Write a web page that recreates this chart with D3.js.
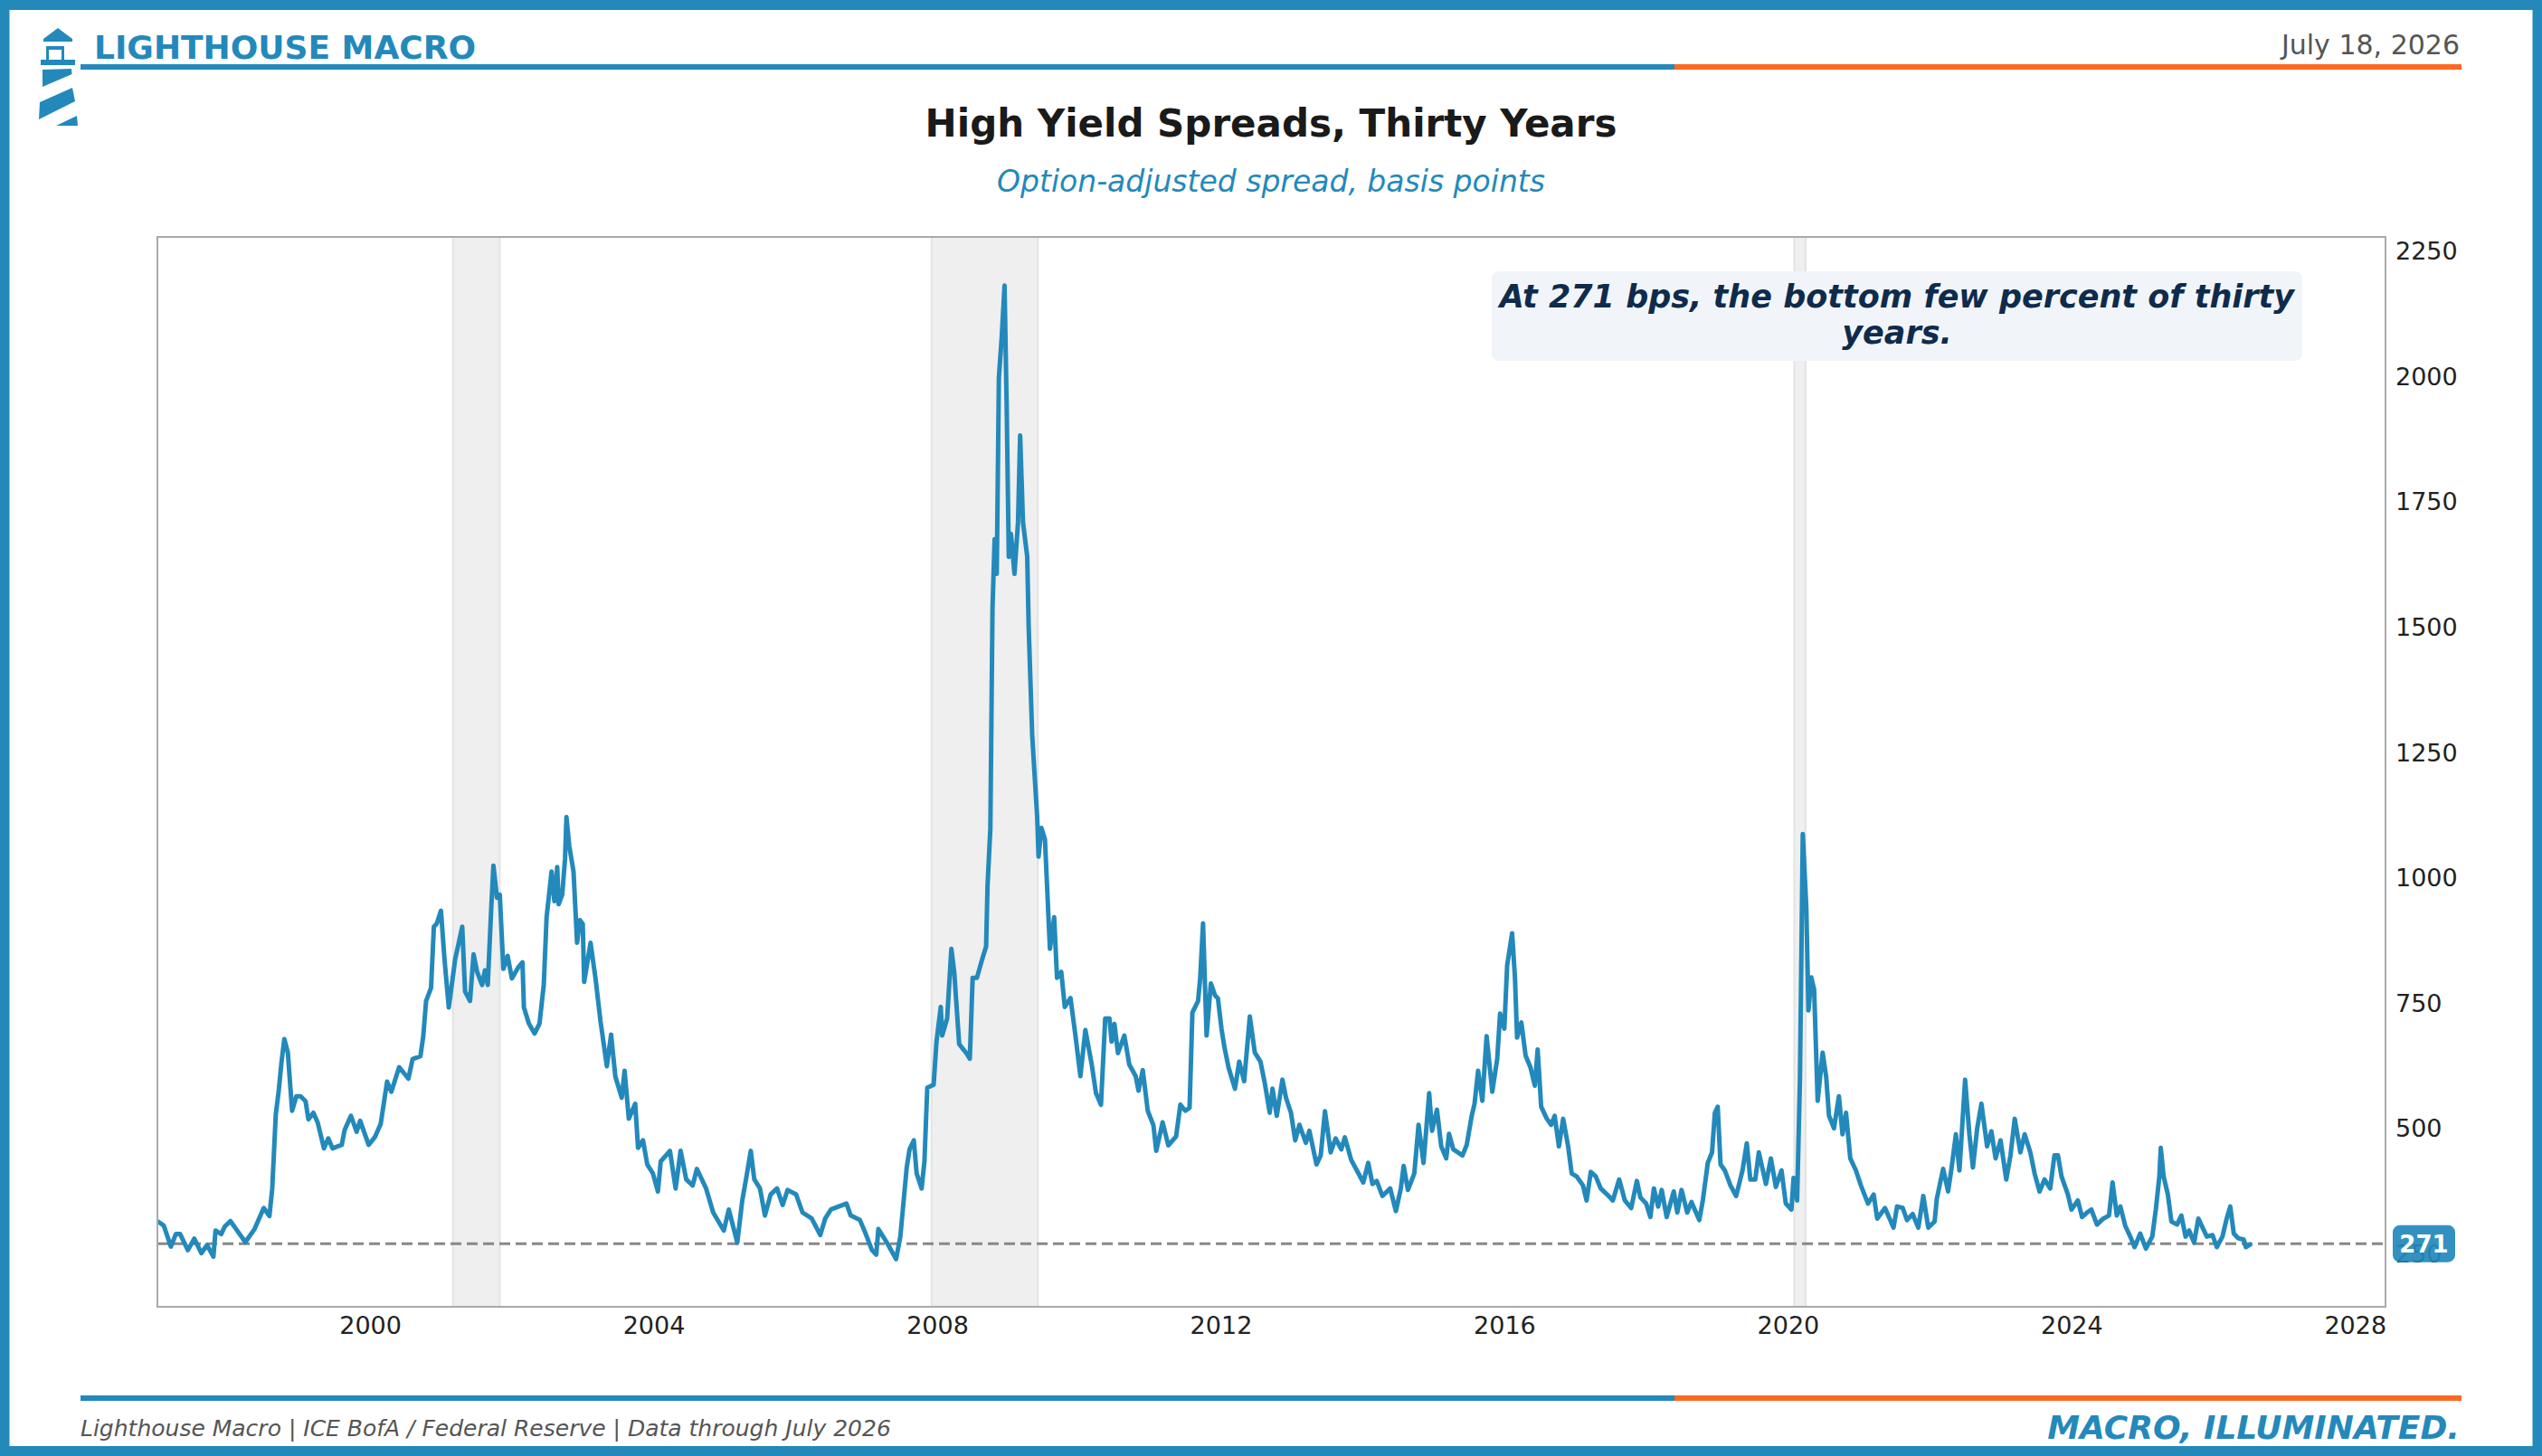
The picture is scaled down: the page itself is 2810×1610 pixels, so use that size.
<!DOCTYPE html>
<html>
<head>
<meta charset="utf-8">
<title>High Yield Spreads, Thirty Years</title>
<script src="https://cdn.jsdelivr.net/npm/d3@7"></script>
<style>
  body { margin: 0; background: #fff; }
  svg { display: block; font-family: "DejaVu Sans", sans-serif; }
</style>
</head>
<body>
<div id="chart"></div>
<script>
/* ICE BofA US High Yield OAS, bps as [decimal year, bps] */

const spread1997_2003 = [
  [1997.00, 316], [1997.09, 307], [1997.19, 265], [1997.26, 290], [1997.32, 290], [1997.43, 258],
  [1997.52, 281], [1997.62, 252], [1997.70, 268], [1997.79, 245], [1997.82, 297], [1997.90, 290],
  [1997.95, 305], [1998.03, 316], [1998.16, 290], [1998.24, 274], [1998.37, 300], [1998.50, 342],
  [1998.58, 326], [1998.62, 381], [1998.67, 529], [1998.71, 574], [1998.75, 632], [1998.79, 679],
  [1998.84, 652], [1998.90, 536], [1998.96, 565], [1999.02, 565], [1999.09, 555], [1999.13, 519],
  [1999.20, 532], [1999.26, 513], [1999.35, 461], [1999.41, 481], [1999.47, 461], [1999.60, 468],
  [1999.64, 497], [1999.73, 526], [1999.81, 494], [1999.86, 516], [1999.98, 468], [2000.07, 484],
  [2000.15, 510], [2000.24, 594], [2000.30, 574], [2000.41, 623], [2000.54, 600], [2000.60, 639],
  [2000.71, 645], [2000.75, 684], [2000.79, 755], [2000.86, 781], [2000.90, 903], [2000.94, 909],
  [2001.00, 935], [2001.05, 838], [2001.11, 742], [2001.20, 838], [2001.26, 877], [2001.30, 903],
  [2001.34, 774], [2001.41, 755], [2001.46, 848], [2001.51, 813], [2001.58, 787], [2001.62, 816],
  [2001.66, 787], [2001.71, 942], [2001.74, 1025], [2001.79, 961], [2001.83, 967], [2001.88, 819],
  [2001.94, 845], [2002.00, 800], [2002.09, 822], [2002.15, 832], [2002.17, 742], [2002.24, 710],
  [2002.32, 690], [2002.39, 710], [2002.45, 787], [2002.49, 922], [2002.56, 1013], [2002.60, 954],
  [2002.64, 1022], [2002.66, 948], [2002.71, 967], [2002.75, 1038], [2002.77, 1122], [2002.81, 1064],
  [2002.87, 1013], [2002.92, 871], [2002.96, 916], [2003.00, 909], [2003.02, 793], [2003.11, 871]
]

const spread2003_2007 = [
  [2003.18, 800], [2003.25, 715], [2003.34, 625], [2003.40, 688], [2003.46, 604], [2003.55, 562],
  [2003.59, 616], [2003.65, 520], [2003.74, 550], [2003.78, 462], [2003.85, 477], [2003.91, 429],
  [2003.99, 411], [2004.06, 375], [2004.10, 435], [2004.23, 456], [2004.31, 381], [2004.38, 456],
  [2004.46, 399], [2004.55, 387], [2004.61, 420], [2004.74, 381], [2004.84, 333], [2004.99, 297],
  [2005.06, 339], [2005.18, 273], [2005.25, 357], [2005.31, 405], [2005.37, 456], [2005.42, 399],
  [2005.50, 381], [2005.57, 327], [2005.65, 369], [2005.74, 381], [2005.82, 348], [2005.89, 378],
  [2006.01, 369], [2006.10, 333], [2006.23, 321], [2006.35, 288], [2006.42, 321], [2006.50, 339],
  [2006.61, 345], [2006.72, 351], [2006.78, 327], [2006.91, 318], [2006.99, 291], [2007.08, 258],
  [2007.14, 249], [2007.17, 300], [2007.29, 273], [2007.42, 240], [2007.48, 285], [2007.57, 423],
  [2007.61, 459], [2007.67, 477], [2007.71, 411], [2007.78, 381], [2007.82, 435]
]

const spread2008_2011 = [
  [2007.86, 582], [2007.95, 588], [2007.99, 674], [2008.05, 743], [2008.07, 686], [2008.14, 720],
  [2008.20, 859], [2008.24, 813], [2008.31, 669], [2008.41, 651], [2008.46, 640], [2008.50, 801],
  [2008.56, 801], [2008.63, 836], [2008.69, 864], [2008.71, 985], [2008.75, 1100], [2008.78, 1538],
  [2008.81, 1676], [2008.84, 1607], [2008.87, 1998], [2008.91, 2079], [2008.95, 2182], [2008.98, 1941],
  [2009.01, 1641], [2009.04, 1687], [2009.09, 1607], [2009.14, 1710], [2009.17, 1883], [2009.21, 1710],
  [2009.27, 1641], [2009.29, 1503], [2009.34, 1285], [2009.36, 1238], [2009.41, 1123], [2009.43, 1043],
  [2009.47, 1100], [2009.52, 1077], [2009.59, 859], [2009.65, 922], [2009.69, 801], [2009.75, 813],
  [2009.80, 743], [2009.88, 761], [2009.95, 686], [2010.02, 605], [2010.09, 697], [2010.18, 628],
  [2010.24, 571], [2010.31, 548], [2010.37, 720], [2010.43, 720], [2010.46, 674], [2010.50, 709],
  [2010.55, 651], [2010.64, 686], [2010.71, 628], [2010.80, 605], [2010.84, 576], [2010.90, 617],
  [2010.97, 536], [2011.05, 507], [2011.09, 456], [2011.18, 513], [2011.26, 467], [2011.37, 485],
  [2011.43, 548], [2011.50, 536], [2011.56, 542], [2011.60, 732], [2011.68, 755], [2011.71, 801],
  [2011.75, 910], [2011.80, 686], [2011.86, 790]
]

const spread2012_2017 = [
  [2011.92, 766], [2011.96, 760], [2012.01, 700], [2012.05, 664], [2012.11, 622], [2012.20, 580],
  [2012.26, 634], [2012.33, 595], [2012.41, 724], [2012.48, 652], [2012.56, 634], [2012.62, 592],
  [2012.69, 532], [2012.73, 580], [2012.79, 526], [2012.87, 598], [2012.92, 562], [2012.99, 532],
  [2013.05, 477], [2013.11, 508], [2013.20, 472], [2013.25, 496], [2013.35, 429], [2013.41, 447],
  [2013.47, 535], [2013.55, 453], [2013.62, 481], [2013.70, 459], [2013.75, 483], [2013.84, 438],
  [2013.92, 417], [2014.01, 393], [2014.08, 432], [2014.14, 390], [2014.20, 396], [2014.28, 366],
  [2014.39, 381], [2014.47, 336], [2014.54, 381], [2014.58, 426], [2014.64, 378], [2014.73, 411],
  [2014.79, 508], [2014.86, 432], [2014.94, 571], [2014.98, 496], [2015.05, 538], [2015.11, 465],
  [2015.18, 441], [2015.22, 490], [2015.28, 459], [2015.41, 447], [2015.47, 468], [2015.54, 526],
  [2015.58, 550], [2015.63, 616], [2015.69, 556], [2015.75, 685], [2015.83, 574], [2015.90, 640],
  [2015.94, 730], [2016.00, 700], [2016.04, 826], [2016.11, 890], [2016.15, 802], [2016.18, 682],
  [2016.24, 712], [2016.30, 646], [2016.37, 622], [2016.43, 586], [2016.47, 658], [2016.52, 544],
  [2016.60, 520], [2016.66, 508], [2016.71, 526], [2016.77, 465], [2016.83, 520], [2016.90, 465],
  [2016.95, 411], [2017.02, 405], [2017.11, 387], [2017.16, 357], [2017.22, 414], [2017.29, 405],
  [2017.36, 381], [2017.45, 369], [2017.53, 357], [2017.62, 399], [2017.70, 357], [2017.79, 342],
  [2017.87, 396], [2017.92, 363]
]

const spread2018_2026 = [
  [2018.00, 351], [2018.06, 324], [2018.11, 381], [2018.17, 345], [2018.22, 378], [2018.29, 324],
  [2018.39, 375], [2018.44, 333], [2018.50, 378], [2018.58, 333], [2018.64, 354], [2018.75, 318],
  [2018.80, 357], [2018.87, 432], [2018.93, 453], [2018.97, 532], [2019.01, 544], [2019.05, 429],
  [2019.11, 417], [2019.19, 387], [2019.27, 366], [2019.36, 417], [2019.42, 471], [2019.47, 399],
  [2019.54, 399], [2019.59, 453], [2019.69, 390], [2019.76, 441], [2019.83, 384], [2019.91, 417],
  [2019.97, 351], [2020.05, 339], [2020.08, 402], [2020.13, 357], [2020.17, 598], [2020.21, 1088],
  [2020.26, 941], [2020.29, 736], [2020.33, 802], [2020.37, 778], [2020.42, 556], [2020.49, 652],
  [2020.54, 604], [2020.58, 526], [2020.65, 501], [2020.72, 565], [2020.77, 489], [2020.82, 532],
  [2020.88, 441], [2020.96, 417], [2021.03, 387], [2021.13, 351], [2021.21, 369], [2021.26, 321],
  [2021.37, 342], [2021.49, 303], [2021.54, 345], [2021.62, 342], [2021.68, 318], [2021.76, 330],
  [2021.84, 303], [2021.91, 366], [2021.98, 303], [2022.07, 315], [2022.10, 360], [2022.19, 420],
  [2022.26, 375], [2022.31, 423], [2022.37, 489], [2022.42, 417], [2022.50, 598], [2022.56, 489],
  [2022.61, 423], [2022.67, 501], [2022.73, 550], [2022.81, 465], [2022.87, 495], [2022.93, 441],
  [2023.00, 477], [2023.08, 399], [2023.14, 447], [2023.20, 520], [2023.28, 453], [2023.34, 489],
  [2023.42, 453], [2023.48, 411], [2023.55, 375], [2023.62, 399], [2023.70, 381], [2023.76, 447],
  [2023.81, 447], [2023.86, 405], [2023.95, 369], [2024.00, 339], [2024.09, 357], [2024.15, 324],
  [2024.22, 333], [2024.28, 339], [2024.36, 309], [2024.45, 321], [2024.53, 327], [2024.58, 393],
  [2024.64, 327], [2024.69, 345], [2024.76, 306], [2024.83, 285], [2024.89, 264], [2024.97, 291],
  [2025.05, 261], [2025.14, 285], [2025.19, 339], [2025.24, 405], [2025.26, 462], [2025.30, 405],
  [2025.36, 369], [2025.41, 315], [2025.49, 309], [2025.55, 327], [2025.61, 285], [2025.66, 297],
  [2025.73, 273], [2025.79, 321], [2025.86, 300], [2025.91, 285], [2025.99, 288], [2026.05, 264],
  [2026.13, 285], [2026.19, 321], [2026.24, 345], [2026.29, 291], [2026.35, 282], [2026.43, 279],
  [2026.46, 264], [2026.54, 271]
]

// NBER recessions, [start, end] in decimal years
const recessions = [[2001.17, 2001.83], [2007.92, 2009.42], [2020.09, 2020.25]]

const xTicks = [2000, 2004, 2008, 2012, 2016, 2020, 2024, 2028]
const yTicks = [250, 500, 750, 1000, 1250, 1500, 1750, 2000, 2250]
const latestSpread = 271

const annotationLines = ["At 271 bps, the bottom few percent of thirty", "years."]

const W = 2810
const H = 1610
const BLUE = "#2389bb"
const ORANGE = "#ff6a22"
const plot = { left: 174, right: 2637, top: 262, bottom: 1445 }

const series = [].concat(spread1997_2003, spread2003_2007, spread2008_2011, spread2012_2017, spread2018_2026)

const svg = d3.select("#chart").append("svg")
  .attr("width", W)
  .attr("height", H)

const x = d3.scaleLinear().domain([1997.0, 2028.43]).range([plot.left, plot.right])
const y = d3.scaleLinear().domain([145, 2279]).range([plot.bottom, plot.top])

// recession shading
svg.append("g").selectAll("rect")
  .data(recessions)
  .join("rect")
  .attr("x", d => x(d[0]))
  .attr("y", plot.top)
  .attr("width", d => x(d[1]) - x(d[0]))
  .attr("height", plot.bottom - plot.top)
  .attr("fill", "#efefef")
  .attr("stroke", "#e3e3e3")
  .attr("stroke-width", 2)

// current level reference
svg.append("line")
  .attr("x1", plot.left)
  .attr("x2", plot.right)
  .attr("y1", y(latestSpread))
  .attr("y2", y(latestSpread))
  .attr("stroke", "#888")
  .attr("stroke-width", 3)
  .attr("stroke-dasharray", "12,6")

const line = d3.line()
  .x(d => x(d[0]))
  .y(d => y(d[1]))

svg.append("path")
  .datum(series)
  .attr("d", line)
  .attr("fill", "none")
  .attr("stroke", BLUE)
  .attr("stroke-width", 5)
  .attr("stroke-linejoin", "round")

// spines
svg.append("rect")
  .attr("x", plot.left)
  .attr("y", plot.top)
  .attr("width", plot.right - plot.left)
  .attr("height", plot.bottom - plot.top)
  .attr("fill", "none")
  .attr("stroke", "#aaa")
  .attr("stroke-width", 2)

const xAxis = svg.append("g")
  .attr("transform", `translate(0,${plot.bottom})`)
  .call(d3.axisBottom(x).tickValues(xTicks).tickFormat(d3.format("d")).tickSize(0).tickPadding(11))
xAxis.select(".domain").remove()
xAxis.selectAll("text")
  .style("font-family", "DejaVu Sans")
  .style("font-size", "27px")
  .attr("fill", "#222")

const yAxis = svg.append("g")
  .attr("transform", `translate(${plot.right},0)`)
  .call(d3.axisRight(y).tickValues(yTicks).tickFormat(d3.format("d")).tickSize(0).tickPadding(11))
yAxis.select(".domain").remove()
yAxis.selectAll("text")
  .style("font-family", "DejaVu Sans")
  .style("font-size", "27px")
  .attr("fill", "#222")

// last value badge on the axis
const badge = svg.append("g")
  .attr("transform", `translate(${plot.right + 8},${y(latestSpread)})`)
badge.append("rect")
  .attr("x", 0)
  .attr("y", -20.5)
  .attr("width", 69)
  .attr("height", 41)
  .attr("rx", 8)
  .attr("fill", BLUE)
  .attr("fill-opacity", 0.93)
badge.append("text")
  .attr("x", 34.5)
  .attr("y", 0)
  .attr("dy", "0.36em")
  .attr("text-anchor", "middle")
  .attr("fill", "#fff")
  .style("font-size", "26px")
  .style("font-weight", "bold")
  .text(latestSpread)

// callout
const note = svg.append("g")
note.append("rect")
  .attr("x", 1649)
  .attr("y", 300)
  .attr("width", 896)
  .attr("height", 99)
  .attr("rx", 8)
  .attr("fill", "#f1f5f9")
note.selectAll("text")
  .data(annotationLines)
  .join("text")
  .attr("x", 2097)
  .attr("y", (d, i) => 340 + i * 40)
  .attr("text-anchor", "middle")
  .attr("fill", "#0f2b4c")
  .style("font-size", "35px")
  .style("font-weight", "bold")
  .style("font-style", "italic")
  .text(d => d)

// frame, header and footer
svg.append("rect")
  .attr("x", 5)
  .attr("y", 5.5)
  .attr("width", 2800)
  .attr("height", 1599)
  .attr("fill", "none")
  .attr("stroke", BLUE)
  .attr("stroke-width", 11)

for (const yy of [71, 1543]) {
  svg.append("rect").attr("x", 89).attr("y", yy).attr("width", 1851 - 89).attr("height", 6).attr("fill", BLUE)
  svg.append("rect").attr("x", 1851).attr("y", yy).attr("width", 2721 - 1851).attr("height", 6).attr("fill", ORANGE)
}

// lighthouse logo
const logo = svg.append("g").attr("fill", BLUE)
logo.append("polygon").attr("points", "64,31 80,43 80,46 48,46 48,43")
logo.append("rect").attr("x", 51).attr("y", 51).attr("width", 20).attr("height", 4)
logo.append("rect").attr("x", 51).attr("y", 51).attr("width", 3).attr("height", 15)
logo.append("rect").attr("x", 68).attr("y", 51).attr("width", 3).attr("height", 15)
logo.append("rect").attr("x", 45).attr("y", 66).attr("width", 38).attr("height", 6)
logo.append("polygon").attr("points", "47,77 79,76 79.5,82 47,96")
logo.append("polygon").attr("points", "44,113 80,97 83,112 43,132")
logo.append("polygon").attr("points", "62,139 85,128 86,139")

svg.append("text")
  .attr("x", 104)
  .attr("y", 65)
  .attr("fill", BLUE)
  .style("font-size", "36px")
  .style("font-weight", "bold")
  .text("LIGHTHOUSE MACRO")

svg.append("text")
  .attr("x", 2719)
  .attr("y", 60)
  .attr("text-anchor", "end")
  .attr("fill", "#555")
  .style("font-size", "30px")
  .text("July 18, 2026")

svg.append("text")
  .attr("x", W / 2)
  .attr("y", 151)
  .attr("text-anchor", "middle")
  .attr("fill", "#1a1a1a")
  .style("font-size", "42px")
  .style("font-weight", "bold")
  .text("High Yield Spreads, Thirty Years")

svg.append("text")
  .attr("x", W / 2)
  .attr("y", 212)
  .attr("text-anchor", "middle")
  .attr("fill", BLUE)
  .style("font-size", "33px")
  .style("font-style", "italic")
  .text("Option-adjusted spread, basis points")

svg.append("text")
  .attr("x", 89)
  .attr("y", 1588)
  .attr("fill", "#555")
  .style("font-size", "25px")
  .style("font-style", "italic")
  .text("Lighthouse Macro | ICE BofA / Federal Reserve | Data through July 2026")

svg.append("text")
  .attr("x", 2719)
  .attr("y", 1591)
  .attr("text-anchor", "end")
  .attr("fill", BLUE)
  .style("font-size", "36px")
  .style("font-weight", "bold")
  .style("font-style", "italic")
  .text("MACRO, ILLUMINATED.")
</script>
</body>
</html>
